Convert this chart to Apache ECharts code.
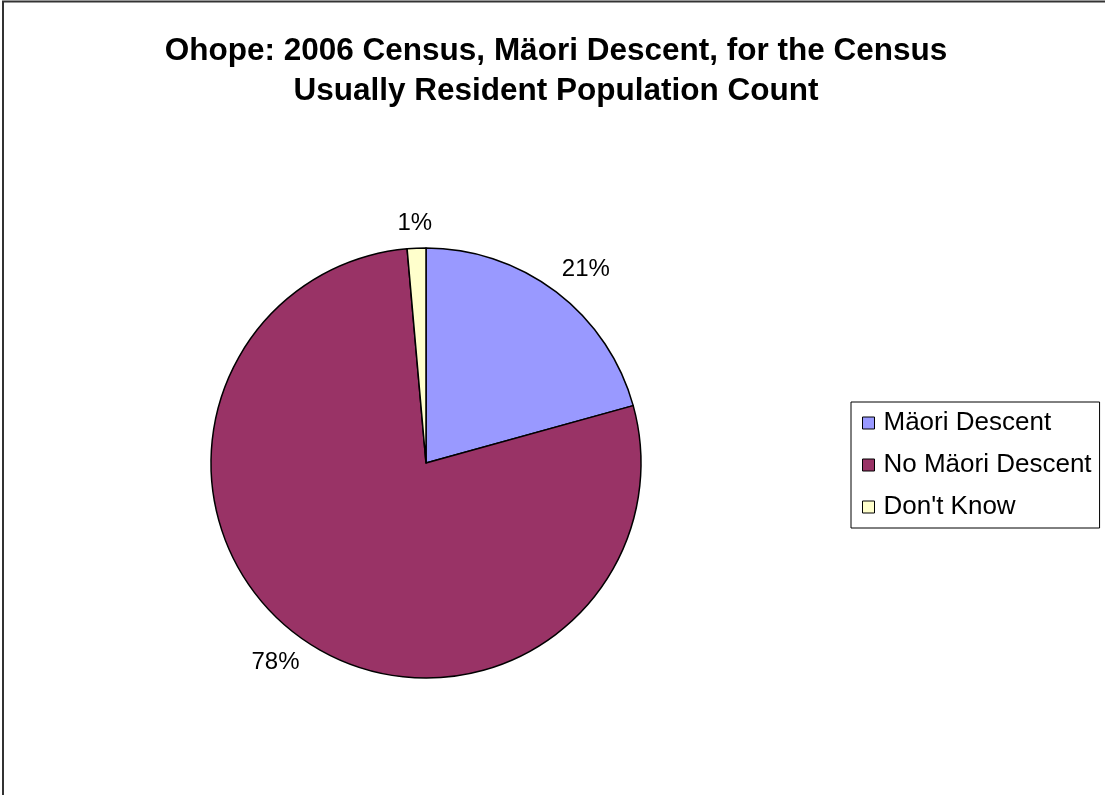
<!DOCTYPE html>
<html>
<head>
<meta charset="utf-8">
<script src="https://cdn.jsdelivr.net/npm/echarts@6/dist/echarts.min.js"></script>
<style>
  html, body { margin: 0; padding: 0; background: #fff; }
  #maori_descent_pie { width: 1105px; height: 795px; }
</style>
</head>
<body>
<div id="maori_descent_pie"></div>
<script>
// 数据
var titleText = "Ohope: 2006 Census, Mäori Descent, for the Census\nUsually Resident Population Count";
var categories = ["Mäori Descent", "No Mäori Descent", "Don't Know"];
var percentValues = [20.7, 77.9, 1.4];
var sliceColors = ["#9999FF", "#993366", "#FFFFCC"];

var pieData = [];
for (var i = 0; i < categories.length; i++) {
  pieData.push({
    name: categories[i],
    value: percentValues[i],
    itemStyle: { color: sliceColors[i] }
  });
}

var labelGap = 13; // 标签框与饼图边缘的距离

var myChart = echarts.init(document.getElementById("maori_descent_pie"));
var option = {
  backgroundColor: "#fff",
  animation: false,
  textStyle: {
    fontFamily: "Liberation Sans, Arial, sans-serif",
    color: "#000"
  },
  graphic: [
    {
      // 外框（右边和下边被裁掉）
      type: "rect",
      shape: { x: 3, y: 1.5, width: 1200, height: 900 },
      style: { fill: null, stroke: "#333", lineWidth: 2 },
      silent: true
    }
  ],
  title: {
    text: titleText,
    left: 551,
    textAlign: "center",
    top: 26,
    textStyle: {
      fontSize: 31.5,
      fontWeight: "bold",
      lineHeight: 40,
      color: "#000",
      fontFamily: "Liberation Sans, Arial, sans-serif"
    }
  },
  legend: {
    orient: "vertical",
    left: 851,
    top: 402,
    padding: [8, 8, 8, 11],
    itemGap: 16,
    itemWidth: 12,
    itemHeight: 12,
    icon: "rect",
    borderColor: "#000",
    borderWidth: 1,
    itemStyle: { borderColor: "#000", borderWidth: 1 },
    textStyle: {
      fontSize: 26,
      color: "#000",
      padding: [0, 0, 0, 4]
    },
    data: categories
  },
  series: [
    {
      type: "pie",
      center: [426, 463],
      radius: 215,
      startAngle: 90,
      clockwise: true,
      data: pieData,
      itemStyle: { borderColor: "#000", borderWidth: 1.5 },
      label: {
        show: true,
        position: "outside",
        formatter: function (p) { return Math.round(p.value) + "%"; },
        fontSize: 24,
        color: "#000",
        distanceToLabelLine: 0
      },
      labelLine: { show: false, length: 20, length2: 0 },
      // 像 Excel 一样，让标签框朝向饼图的一角落在中线方向上
      labelLayout: function (params) {
        var pts = params.labelLinePoints;
        if (!pts) return {};
        var dx = pts[1][0] - pts[0][0];
        var dy = pts[1][1] - pts[0][1];
        var len = Math.sqrt(dx * dx + dy * dy) || 1;
        dx /= len;
        dy /= len;
        var w = params.labelRect.width;
        var h = params.labelRect.height;
        var px = pts[0][0] + dx * labelGap;
        var py = pts[0][1] + dy * labelGap;
        var kx = Math.max(-1, Math.min(1, dx * 1.5));
        var ky = Math.max(-1, Math.min(1, dy * 1.5));
        return {
          x: px + kx * w / 2,
          y: py + ky * h / 2,
          align: "center",
          verticalAlign: "middle"
        };
      },
      emphasis: { disabled: true }
    }
  ]
};
myChart.setOption(option);

window.addEventListener("resize", function () {
  myChart.resize();
});
</script>
</body>
</html>
